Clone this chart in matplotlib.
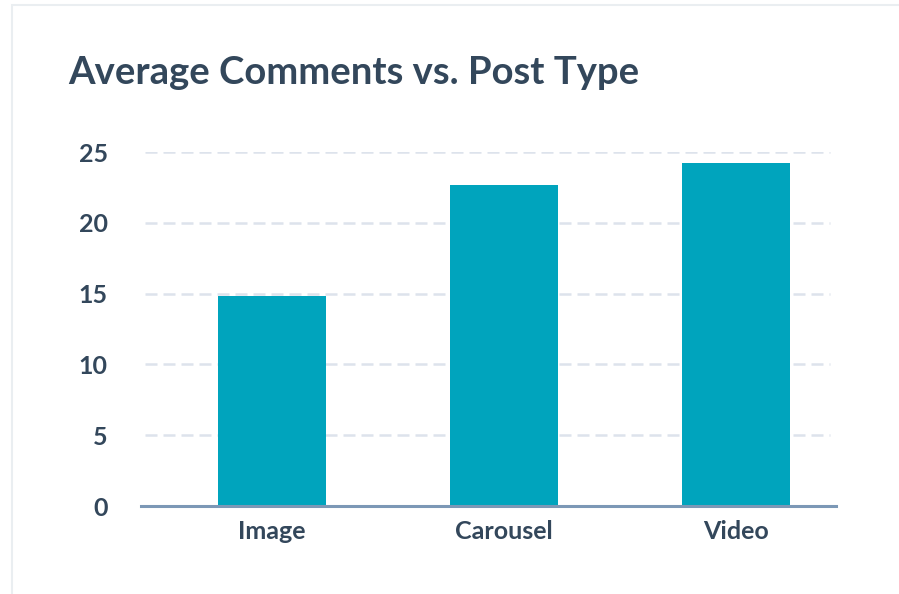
import matplotlib
matplotlib.use("Agg")
import matplotlib.pyplot as plt
from matplotlib.patches import Rectangle

# data
categories = ["Image", "Carousel", "Video"]
avg_comments = [14.8, 22.7, 24.2]
y_ticks = [0, 5, 10, 15, 20, 25]

TEXT = "#33475b"
BAR = "#00a4bd"
GRID = "#dde3ec"
AXIS = "#7c98b6"

plt.rcParams["font.family"] = ["Lato", "DejaVu Sans"]

fig = plt.figure(figsize=(8.99, 5.94), dpi=100)

# card outline (top and left edges)
fig.add_artist(Rectangle((12 / 899, -0.01), 1.0, 1 - 5 / 594 + 0.01,
                         transform=fig.transFigure, fill=False,
                         edgecolor="#eaeef1", linewidth=1.5))

ax = fig.add_axes([141 / 899, 1 - 506 / 594, (836 - 141) / 899, (506 - 152) / 594])

ax.bar(range(len(categories)), avg_comments, width=0.465, color=BAR, zorder=2)

ax.set_ylim(0, 25)
ax.set_xlim(-0.562, 2.43)
ax.set_yticks(y_ticks)
ax.set_xticks(range(len(categories)))
ax.set_xticklabels(categories)

for y in y_ticks[1:]:
    ax.axhline(y, xmin=4 / 695, xmax=689 / 695, color=GRID, linewidth=1.8,
               dashes=(4.8, 2.4), zorder=1)

for side in ["top", "right", "left"]:
    ax.spines[side].set_visible(False)
ax.spines["bottom"].set_color(AXIS)
ax.spines["bottom"].set_linewidth(2.2)
ax.spines["bottom"].set_zorder(3)

ax.tick_params(axis="y", length=0, pad=24, labelsize=18, labelcolor=TEXT)
ax.tick_params(axis="x", length=0, pad=10, labelsize=18, labelcolor=TEXT)
for lbl in ax.get_yticklabels() + ax.get_xticklabels():
    lbl.set_fontweight("bold")

fig.text(68 / 899, 1 - 84 / 594, "Average Comments vs. Post Type",
         fontsize=27.5, fontweight="bold", color=TEXT, ha="left", va="baseline")

fig.savefig("out.png", dpi=100, facecolor="white")
